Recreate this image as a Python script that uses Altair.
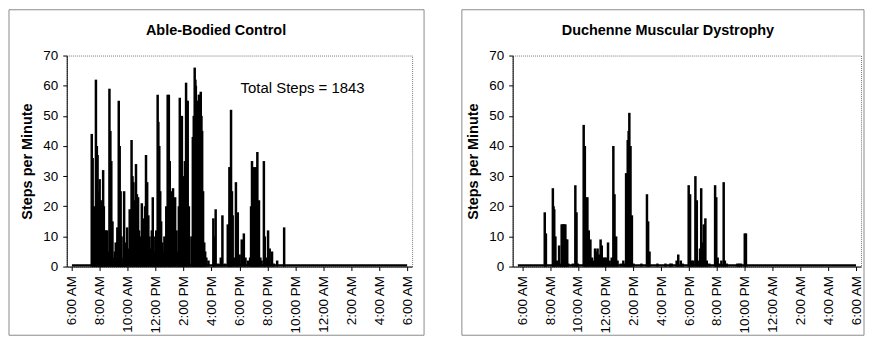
import altair as alt
import pandas as pd

# ---- data (minutes after 6:00 AM, steps per minute) ----
tick_minutes = [0, 120, 240, 360, 480, 600, 720, 840, 960, 1080, 1200, 1320, 1440]
tick_labels = ["6:00 AM", "8:00 AM", "10:00 AM", "12:00 PM", "2:00 PM", "4:00 PM",
               "6:00 PM", "8:00 PM", "10:00 PM", "12:00 AM", "2:00 AM", "4:00 AM", "6:00 AM"]
y_ticks = [0, 10, 20, 30, 40, 50, 60, 70]

control_minutes = [86, 90, 95, 100, 104, 108, 111, 116, 120, 124, 127, 131, 135, 138, 142, 147,
                   152, 157, 162, 166, 170, 175, 180, 185, 189, 193, 196, 199, 202, 206, 210, 214,
                   218, 222, 225, 230, 234, 238, 243, 249, 253, 257, 261, 265, 270, 276, 280, 285,
                   289, 293, 297, 301, 306, 311, 315, 319, 324, 329, 334, 340, 344, 348, 352, 357,
                   363, 369, 372, 376, 380, 384, 389, 394, 398, 401, 406, 412, 417, 421, 426, 430,
                   435, 439, 444, 450, 456, 460, 464, 468, 473, 477, 481, 486, 491, 495, 498, 503,
                   509, 514, 520, 524, 528, 531, 533, 537, 542, 546, 549, 552, 554, 557, 560, 564,
                   569, 573, 578, 587, 608, 612, 618, 629, 640, 647, 658, 670, 674, 677, 680, 684,
                   688, 691, 698, 705, 709, 713, 721, 730, 739, 746, 757, 766, 770, 774, 778, 782,
                   786, 790, 794, 797, 800, 804, 810, 815, 825, 829, 833, 843, 850, 860, 868, 882,
                   912]
control_steps = [44, 36, 20, 15, 62, 40, 37, 25, 29, 18, 22, 15, 32, 20, 12, 12,
                 12, 5, 59, 45, 35, 15, 3, 5, 8, 6, 13, 10, 55, 40, 25, 10,
                 1, 3, 25, 8, 2, 13, 6, 19, 16, 42, 30, 28, 22, 34, 24, 23,
                 12, 7, 10, 21, 16, 15, 20, 37, 28, 17, 10, 6, 12, 23, 10, 5,
                 12, 57, 48, 40, 25, 15, 8, 5, 10, 6, 20, 57, 57, 35, 25, 18,
                 26, 15, 23, 12, 5, 20, 56, 48, 50, 30, 21, 35, 61, 55, 55, 20,
                 1, 10, 43, 50, 66, 62, 60, 55, 55, 57, 57, 56, 58, 50, 45, 25,
                 8, 5, 3, 2, 16, 10, 19, 1, 3, 17, 1, 14, 10, 33, 20, 52,
                 25, 17, 3, 28, 15, 18, 4, 9, 11, 3, 2, 3, 20, 35, 25, 33,
                 20, 33, 25, 38, 15, 22, 3, 2, 35, 10, 3, 12, 6, 5, 1, 2,
                 13]

dmd_minutes = [97, 102, 132, 135, 138, 143, 149, 159, 164, 170, 174, 178, 182, 186, 190, 194,
               199, 218, 229, 234, 240, 265, 270, 276, 281, 287, 294, 301, 307, 314, 320, 325,
               330, 338, 343, 350, 356, 363, 370, 377, 386, 393, 398, 405, 411, 425, 436, 442,
               448, 452, 455, 459, 462, 467, 473, 480, 514, 538, 543, 549, 583, 618, 638, 645,
               666, 673, 684, 692, 718, 724, 731, 738, 747, 753, 760, 767, 772, 778, 783, 790,
               796, 807, 832, 837, 843, 848, 859, 869, 874, 882, 928, 936, 944, 960, 965]
dmd_steps = [18, 11, 26, 20, 19, 10, 2, 7, 1, 14, 14, 14, 14, 14, 9, 9,
             1, 1, 27, 18, 1, 47, 40, 23, 23, 12, 9, 3, 2, 6, 5, 6,
             4, 9, 7, 3, 3, 3, 8, 2, 3, 40, 24, 10, 2, 1, 2, 1,
             31, 30, 42, 45, 51, 40, 17, 1, 1, 24, 15, 5, 1, 1, 1, 1,
             2, 4, 2, 1, 27, 24, 2, 2, 30, 22, 2, 6, 26, 8, 14, 16,
             2, 1, 27, 23, 3, 1, 2, 28, 2, 1, 1, 1, 1, 11, 11]

FONT = "Liberation Sans"
H = 212
label_expr = "[" + ",".join("'%s'" % t for t in tick_labels) + "][round(datum.value / 120)]"


def panel(minutes, steps, title, width, xmin, frame_left, frame_right, title_x, note=None):
    df = pd.DataFrame({"minute": minutes, "steps": steps})
    band_df = pd.DataFrame({"minute": [xmin + 1], "minute_end": [1440],
                            "steps": [0], "steps_top": [0.8]})
    x = alt.X("minute:Q",
              scale=alt.Scale(domain=[xmin, 1440], nice=False, zero=False),
              axis=alt.Axis(values=tick_minutes, labelExpr=label_expr, labelAngle=270,
                            title=None, grid=False, tickSize=4, labelPadding=5,
                            labelFontSize=13.5))
    y = alt.Y("steps:Q",
              scale=alt.Scale(domain=[0, 70], nice=False),
              axis=alt.Axis(values=y_ticks, title="Steps per Minute", grid=False,
                            tickSize=4, labelFontSize=13.5, labelPadding=5,
                            titleFontSize=14.5, titleFontWeight="bold", titlePadding=8))
    bars = alt.Chart(df).mark_bar(width=2.5, color="black").encode(x=x, y=y)
    band = alt.Chart(band_df).mark_rect(color="black").encode(
        x=x, x2="minute_end:Q", y=y, y2="steps_top:Q")
    one = pd.DataFrame({"a": [0]})
    frame = alt.Chart(one).mark_rect(fillOpacity=0, stroke="#8a8a8a", strokeWidth=1).encode(
        x=alt.value(frame_left), x2=alt.value(width + frame_right),
        y=alt.value(-46), y2=alt.value(H + 69))
    ttl = alt.Chart(one).mark_text(text=title, font=FONT, fontSize=14.5, fontWeight="bold",
                                   align="center", baseline="alphabetic", color="black").encode(
        x=alt.value(title_x), y=alt.value(-21))
    layers = [frame, band, bars, ttl]
    if note:
        layers.append(alt.Chart(one).mark_text(text=note, font=FONT, fontSize=15,
                                               align="center", baseline="alphabetic",
                                               color="black").encode(
            x=alt.value(237), y=alt.value(38)))
    return alt.layer(*layers).properties(width=width, height=H)


left = panel(control_minutes, control_steps, "Able-Bodied Control", 347, 0, -58, 12, 150,
             note="Total Steps = 1843")
right = panel(dmd_minutes, dmd_steps, "Duchenne Muscular Dystrophy", 350, -20, -51, 3, 156)

chart = alt.hconcat(left, right, spacing=36).configure_view(
    stroke="#777777", strokeDash=[1, 1], strokeWidth=1
).configure_axis(
    domainColor="black", tickColor="black", labelColor="black", titleColor="black",
    labelFont=FONT, titleFont=FONT, domainWidth=1
).properties(background="white", padding=0)

chart.save("out.html", embed_options={"renderer": "svg", "actions": False})
